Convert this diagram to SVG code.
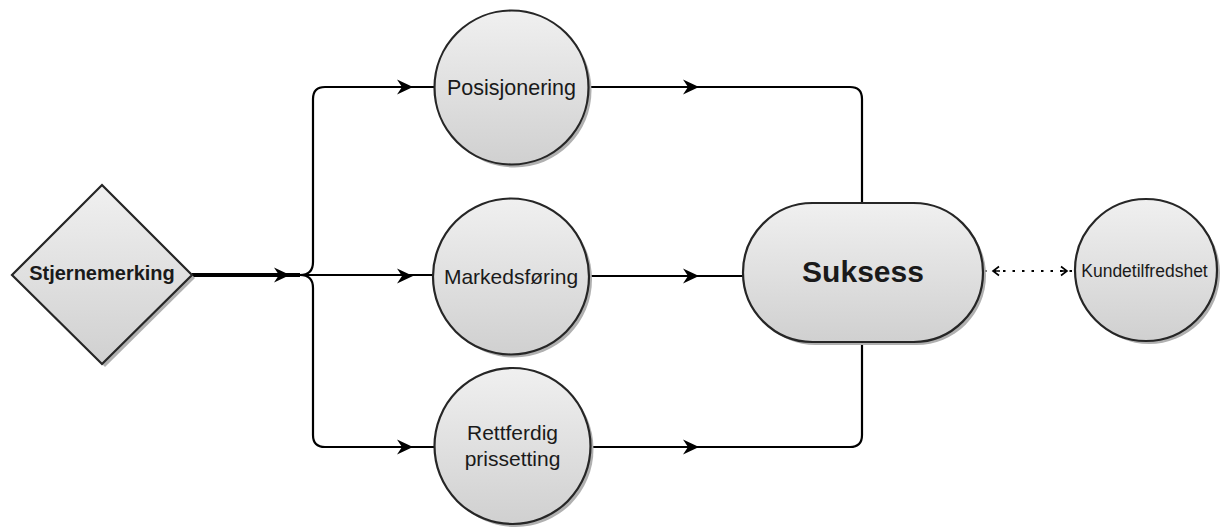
<svg xmlns="http://www.w3.org/2000/svg" xmlns:xlink="http://www.w3.org/1999/xlink" width="1223" height="530" viewBox="0 0 1223 530">
<defs>
<linearGradient id="g" x1="0" y1="0" x2="0" y2="1">
<stop offset="0" stop-color="#f0f0f0"/>
<stop offset="1" stop-color="#d0d0d0"/>
</linearGradient>
<path id="ah" d="M0,0 L-16,-7.5 L-11,0 L-16,7.5 Z" fill="#000"/>
<style>
.shape{fill:url(#g);stroke:#262626;stroke-width:2.2}
.shadow{fill:#b0b0b0}
.ln{fill:none;stroke:#000;stroke-width:2.2}
.lbl{font-family:"Liberation Sans",Arial,sans-serif;fill:#1a1a1a;text-anchor:middle}
</style>
</defs>
<rect width="1223" height="530" fill="#fff"/>
<g id="connectors">
<path class="ln" d="M192,275 H300" style="stroke-width:4"/>
<path class="ln" d="M300,275 Q313,275 313,262 V99 Q313,87 325,87 H436"/>
<path class="ln" d="M300,275 H434"/>
<path class="ln" d="M300,275 Q313,275 313,288 V435 Q313,447 325,447 H436"/>
<path class="ln" d="M588,87 H850 Q862,87 862,99 V203"/>
<path class="ln" d="M589,276 H743"/>
<path class="ln" d="M590,447 H850 Q862,447 862,435 V342"/>
<use xlink:href="#ah" transform="translate(290,275)"/>
<use xlink:href="#ah" transform="translate(413,87)"/>
<use xlink:href="#ah" transform="translate(413,276)"/>
<use xlink:href="#ah" transform="translate(413,447)"/>
<use xlink:href="#ah" transform="translate(699,87)"/>
<use xlink:href="#ah" transform="translate(699,276)"/>
<use xlink:href="#ah" transform="translate(699,447)"/>
<path d="M984,271 H1075" fill="none" stroke="#000" stroke-width="2.2" stroke-dasharray="2.5 7"/>
<path d="M999,266.5 L993,271 L999,275.5 M993,271 H1000 M1061,266.5 L1067,271 L1061,275.5 M1060,271 H1067" fill="none" stroke="#000" stroke-width="1.6"/>
</g>
<g id="stjernemerking">
<polygon class="shadow" points="105,188 195,278 105,367 15,278"/>
<polygon class="shape" points="102,185 192,275 102,364 12,275"/>
<text class="lbl" x="102" y="280" font-size="20" font-weight="bold">Stjernemerking</text>
</g>
<g id="posisjonering">
<circle class="shadow" cx="514.5" cy="90.5" r="77"/>
<circle class="shape" cx="511.5" cy="87.5" r="77"/>
<text class="lbl" x="511.5" y="94.5" font-size="21.5">Posisjonering</text>
</g>
<g id="markedsforing">
<circle class="shadow" cx="514" cy="279.5" r="78"/>
<circle class="shape" cx="511" cy="276.5" r="78"/>
<text class="lbl" x="511" y="283.5" font-size="21">Markedsføring</text>
</g>
<g id="rettferdig">
<circle class="shadow" cx="515.5" cy="449" r="78"/>
<circle class="shape" cx="512.5" cy="446" r="78"/>
<text class="lbl" x="512.5" y="440" font-size="21">Rettferdig</text>
<text class="lbl" x="512.5" y="466" font-size="21">prissetting</text>
</g>
<g id="suksess">
<rect class="shadow" x="746" y="206" width="240" height="139" rx="69.5" ry="69.5"/>
<rect class="shape" x="743" y="203" width="240" height="139" rx="69.5" ry="69.5"/>
<text class="lbl" x="863" y="282" font-size="30" font-weight="bold">Suksess</text>
</g>
<g id="kundetilfredshet">
<circle class="shadow" cx="1149" cy="273" r="71"/>
<circle class="shape" cx="1146" cy="270" r="71"/>
<text class="lbl" x="1144.5" y="277" font-size="17.5">Kundetilfredshet</text>
</g>
</svg>
